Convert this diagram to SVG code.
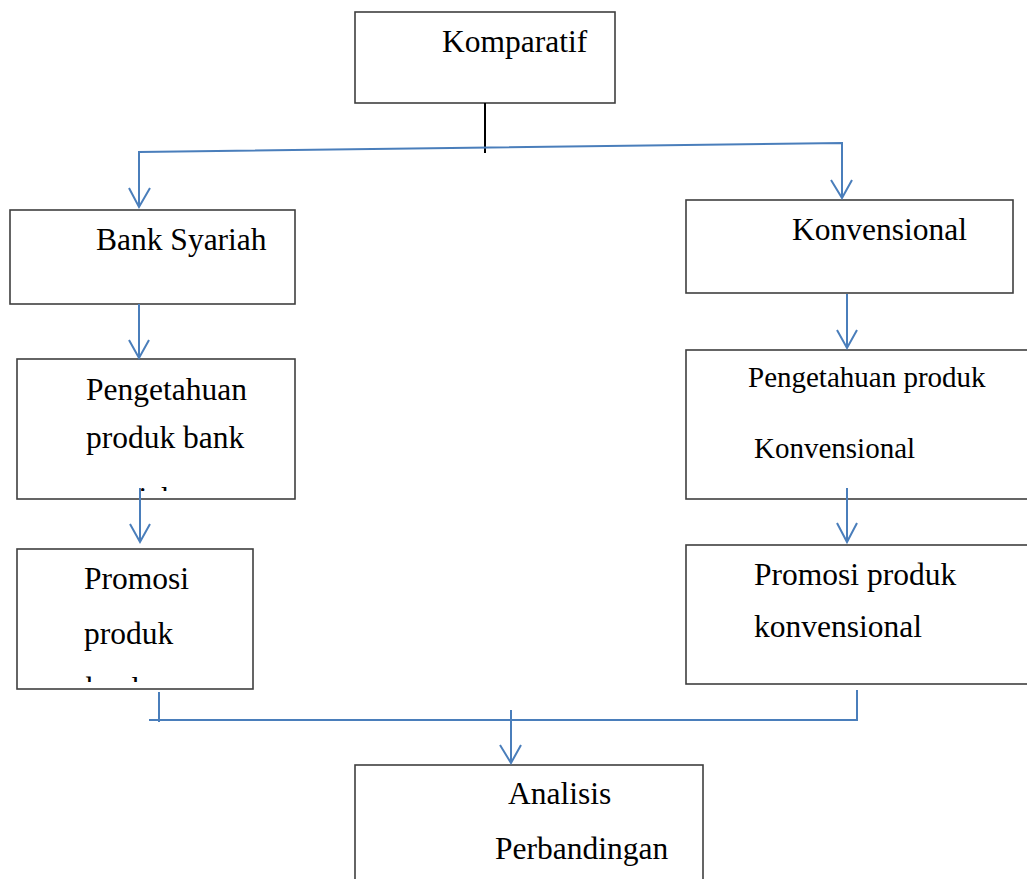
<svg xmlns="http://www.w3.org/2000/svg" width="1027" height="879" viewBox="0 0 1027 879">
<style>
.box{fill:#fff;stroke:#3f3f3f;stroke-width:1.6}
.t{font-family:"Liberation Serif","Times New Roman",serif;font-size:31.5px;fill:#000}
.ts{font-family:"Liberation Serif","Times New Roman",serif;font-size:29px;fill:#000}
.c{fill:none;stroke:#4A7EBB;stroke-width:2;stroke-linejoin:miter}
.k{fill:none;stroke:#000;stroke-width:2}
</style>
<defs>
<clipPath id="clipA"><rect x="17" y="359" width="278" height="132"/></clipPath>
<clipPath id="clipB"><rect x="17" y="549" width="236" height="133"/></clipPath>
</defs>
<rect width="1027" height="879" fill="#fff"/>
<g id="n-komparatif"><rect class="box" x="355" y="12" width="260" height="91"/><text class="t" x="442" y="52">Komparatif</text></g>
<g id="n-bank-syariah"><rect class="box" x="10" y="210" width="285" height="94"/><text class="t" x="96" y="250">Bank Syariah</text></g>
<g id="n-konvensional"><rect class="box" x="686" y="200" width="327" height="93"/><text class="t" x="792" y="240">Konvensional</text></g>
<g id="n-pengetahuan-syariah"><rect class="box" x="17" y="359" width="278" height="140"/><text class="t" x="86" y="400">Pengetahuan</text><text class="t" x="86" y="448">produk bank</text><text class="t" x="86" y="509" clip-path="url(#clipA)">syariah</text></g>
<g id="n-promosi-syariah"><rect class="box" x="17" y="549" width="236" height="140"/><text class="t" x="84" y="589">Promosi</text><text class="t" x="84" y="644">produk</text><text class="t" x="86" y="699" clip-path="url(#clipB)">bank</text></g>
<g id="n-pengetahuan-konv"><rect class="box" x="686" y="350" width="360" height="149"/><text class="ts" x="748" y="387">Pengetahuan produk</text><text class="ts" x="754" y="458">Konvensional</text></g>
<g id="n-promosi-konv"><rect class="box" x="686" y="545" width="360" height="139"/><text class="t" x="754" y="585">Promosi produk</text><text class="t" x="754" y="637">konvensional</text></g>
<g id="n-analisis"><rect class="box" x="355" y="765" width="348" height="130"/><text class="t" x="508" y="804">Analisis</text><text class="t" x="495" y="859">Perbandingan</text></g>
<g id="connectors">
<line class="k" x1="485" y1="103" x2="485" y2="153"/>
<polyline class="c" points="139,207 139,152 842,143 842,198"/>
<polyline class="c" points="129,188 139,207 150,188"/>
<polyline class="c" points="831,180 842,198 852,180"/>
<line class="c" x1="139" y1="304" x2="139" y2="358"/>
<polyline class="c" points="129,340 139,358 149,340"/>
<line class="c" x1="140" y1="488" x2="140" y2="542"/>
<polyline class="c" points="130,524 140,542 150,524"/>
<line class="c" x1="847" y1="294" x2="847" y2="348"/>
<polyline class="c" points="837,330 847,348 857,330"/>
<line class="c" x1="847" y1="488" x2="847" y2="542"/>
<polyline class="c" points="837,523 847,542 857,523"/>
<line class="c" x1="159" y1="692" x2="159" y2="722"/>
<polyline class="c" points="149,720 857,720 857,690"/>
<line class="c" x1="511" y1="710" x2="511" y2="763"/>
<polyline class="c" points="500,745 511,763 521,745"/>
</g>
</svg>
